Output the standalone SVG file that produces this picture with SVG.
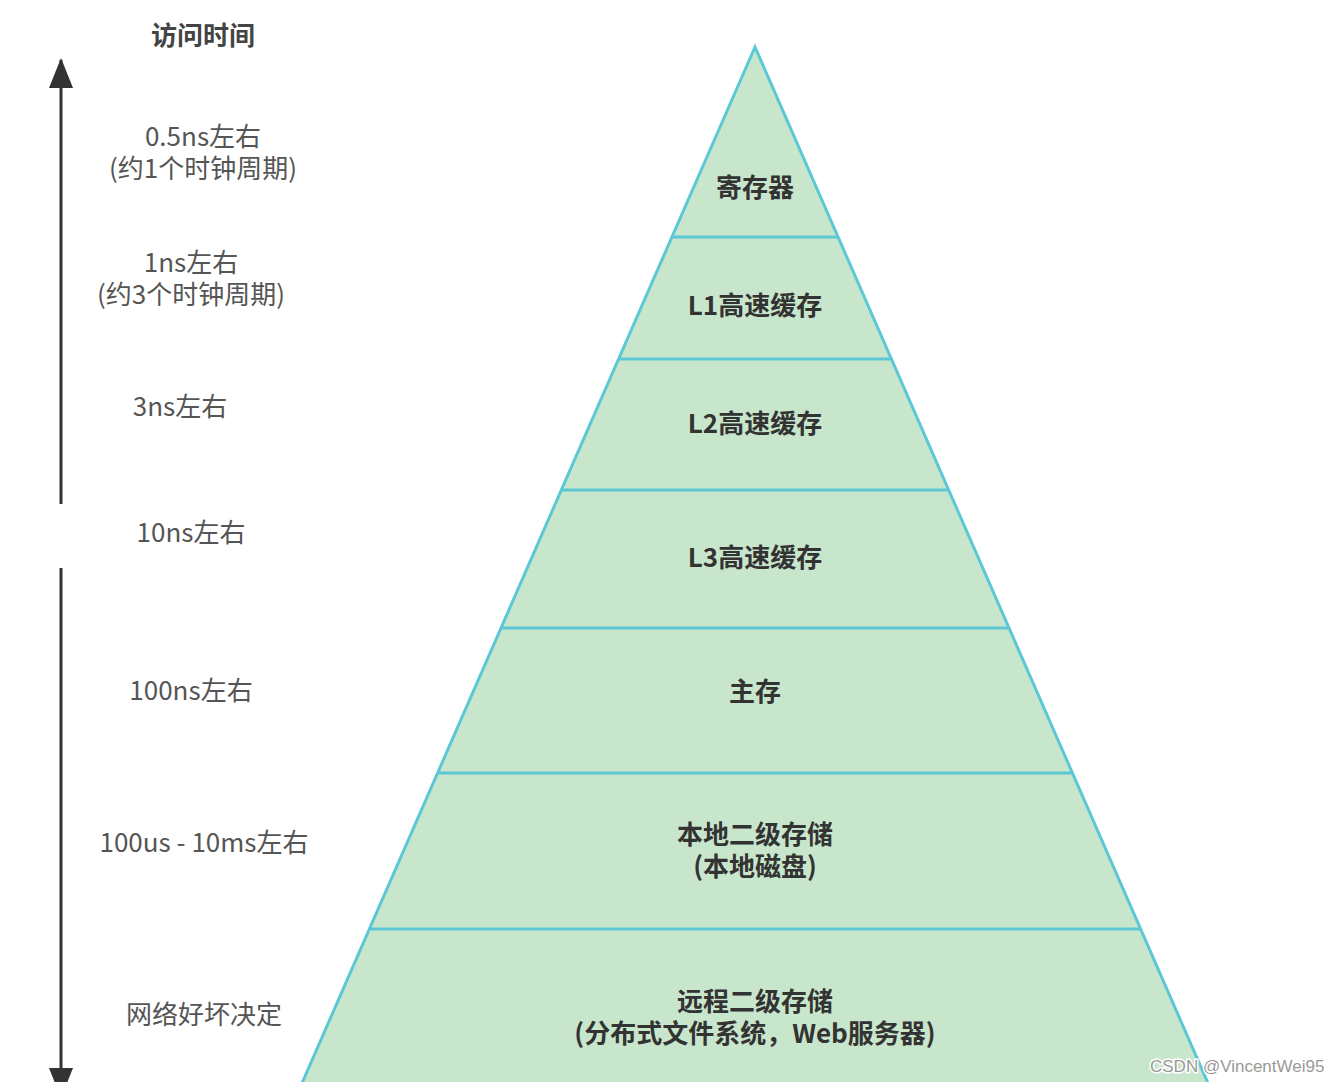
<svg xmlns="http://www.w3.org/2000/svg" width="1338" height="1082" viewBox="0 0 1338 1082">
<defs>
<style>
.lbl{font-family:"Noto Sans CJK SC","Noto Sans",sans-serif;font-size:26px;fill:#555;text-anchor:middle}
.ttl{font-family:"Noto Sans CJK SC","Noto Sans",sans-serif;font-size:26px;font-weight:bold;fill:#444;text-anchor:middle}
.lay{font-family:"Noto Sans CJK SC","Noto Sans",sans-serif;font-size:26px;font-weight:bold;fill:#333;text-anchor:middle}
.div{stroke:#5cc8d6;stroke-width:3}
.ax{stroke:#333;stroke-width:3;fill:none}
.wm{font-family:"Liberation Sans",Arial,sans-serif;font-size:17px;fill:#999;stroke:#fff;stroke-width:3;paint-order:stroke}
</style>
<marker id="head" viewBox="0 0 30 24" refX="28" refY="12" markerWidth="30" markerHeight="24" orient="auto" markerUnits="userSpaceOnUse">
<path d="M0,0 L30,12 L0,24 z" fill="#333"/>
</marker>
</defs>
<rect width="1338" height="1082" fill="#fff"/>
<g id="pyramid">
<polygon points="755,47 299,1090 1211,1090" fill="#c8e6cb" stroke="#5cc8d6" stroke-width="3" stroke-linejoin="miter"/>
</g>
<g id="connectors">
<line class="ax" x1="61" y1="504" x2="61" y2="60" marker-end="url(#head)"/>
<line class="ax" x1="61" y1="568" x2="61" y2="1096" marker-end="url(#head)"/>
<line class="div" x1="672" y1="237" x2="838" y2="237"/>
<line class="div" x1="619" y1="359" x2="891" y2="359"/>
<line class="div" x1="561" y1="490" x2="949" y2="490"/>
<line class="div" x1="501" y1="628" x2="1009" y2="628"/>
<line class="div" x1="438" y1="773" x2="1072" y2="773"/>
<line class="div" x1="370" y1="929" x2="1140" y2="929"/>
</g>
<g id="title"><text class="ttl" x="203" y="45">访问时间</text></g>
<g id="t1"><text class="lbl" x="203" y="146">0.5ns左右</text><text class="lbl" x="203" y="178">(约1个时钟周期)</text></g>
<g id="t2"><text class="lbl" x="191" y="272">1ns左右</text><text class="lbl" x="191" y="304">(约3个时钟周期)</text></g>
<g id="t3"><text class="lbl" x="180" y="416">3ns左右</text></g>
<g id="t4"><text class="lbl" x="191" y="542">10ns左右</text></g>
<g id="t5"><text class="lbl" x="191" y="700">100ns左右</text></g>
<g id="t6"><text class="lbl" x="204" y="852">100us - 10ms左右</text></g>
<g id="t7"><text class="lbl" x="204" y="1024">网络好坏决定</text></g>
<g id="l1"><text class="lay" x="755" y="197">寄存器</text></g>
<g id="l2"><text class="lay" x="755" y="315">L1高速缓存</text></g>
<g id="l3"><text class="lay" x="755" y="433">L2高速缓存</text></g>
<g id="l4"><text class="lay" x="755" y="567">L3高速缓存</text></g>
<g id="l5"><text class="lay" x="755" y="701">主存</text></g>
<g id="l6"><text class="lay" x="755" y="844">本地二级存储</text><text class="lay" x="755" y="876">(本地磁盘)</text></g>
<g id="l7"><text class="lay" x="755" y="1011">远程二级存储</text><text class="lay" x="755" y="1043">(分布式文件系统，Web服务器)</text></g>
<text class="wm" x="1150" y="1072">CSDN @VincentWei95</text>
</svg>
